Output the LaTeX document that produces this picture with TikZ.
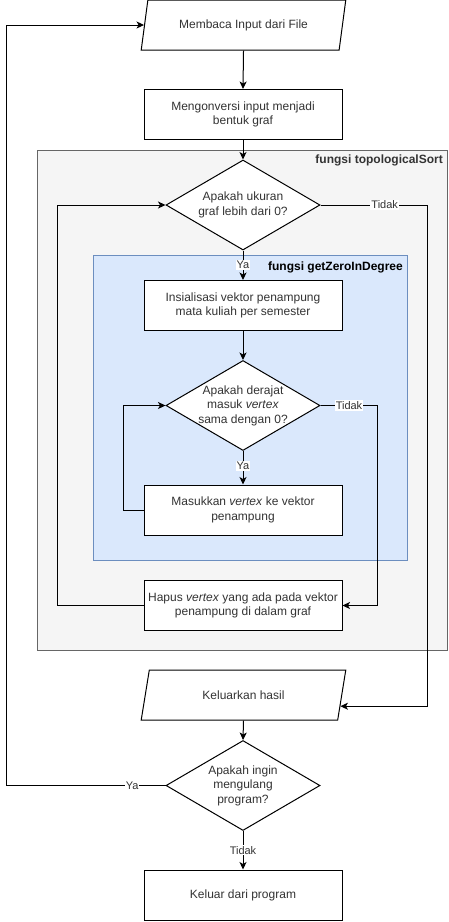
\documentclass[tikz,border=0pt]{standalone}
\usepackage{fontspec}
\setmainfont{Liberation Sans}
\usetikzlibrary{arrows.meta,shapes.geometric,calc}
\definecolor{txt}{HTML}{333333}
\definecolor{tsfill}{HTML}{F5F5F5}
\definecolor{tsdraw}{HTML}{666666}
\definecolor{gzfill}{HTML}{DAE8FC}
\definecolor{gzdraw}{HTML}{6C8EBF}
\tikzset{
  base/.style={font=\fontsize{12}{14.4}\selectfont, text=txt, align=center, inner sep=0pt},
  procbox/.style={base, draw=black, fill=white, line width=1pt, minimum width=198pt, minimum height=50pt},
  iobox/.style={base, draw=black, fill=white, line width=1pt, trapezium, trapezium left angle=68.2, trapezium right angle=111.8, trapezium stretches=true, minimum width=205pt, minimum height=50pt},
  decision/.style={draw=black, fill=white, line width=1pt, diamond, inner sep=0pt, minimum width=154pt, minimum height=90pt},
  dtext/.style={base},
  container/.style={line width=1pt, inner sep=0pt, anchor=north west},
  ctitle/.style={font=\fontsize{12}{14.4}\selectfont\bfseries, inner sep=0pt, anchor=east},
  flow/.style={line width=1pt, draw=black, -{Stealth[length=7.5pt,width=7pt,inset=2pt]}},
  lbl/.style={font=\fontsize{11}{13}\selectfont, text=txt, fill=white, inner sep=1pt},
}
\begin{document}
\begin{tikzpicture}[x=1pt,y=-1pt]
\useasboundingbox[fill=white] (0,0) rectangle (449,922);

% containers
\node[container, draw=tsdraw, fill=tsfill, minimum width=410pt, minimum height=500pt] (ts) at (37,150) {};
\node[ctitle, text=txt] (tstitle) at (443,160) {fungsi topologicalSort};
\node[container, draw=gzdraw, fill=gzfill, minimum width=314pt, minimum height=305pt] (gz) at (93,255) {};
\node[ctitle, text=black] (gztitle) at (403,267) {fungsi getZeroInDegree};

% nodes
\node[iobox] (p1) at (243.5,25) {Membaca Input dari File};
\node[procbox] (b1) at (243,114.5) {Mengonversi input menjadi\\bentuk graf};
\node[decision, label={[dtext]center:Apakah ukuran\\graf lebih dari 0?}] (d1) at (243,205) {};
\node[procbox] (b2) at (243,305.5) {Insialisasi vektor penampung\\mata kuliah per semester};
\node[decision, label={[dtext]center:Apakah derajat\\masuk \textit{vertex}\\sama dengan 0?}] (d2) at (243,405.5) {};
\node[procbox] (b3) at (243,510) {Masukkan \textit{vertex} ke vektor\\penampung};
\node[procbox] (b4) at (243,605.5) {Hapus \textit{vertex} yang ada pada vektor\\penampung di dalam graf};
\node[iobox] (p3) at (243.5,695) {Keluarkan hasil};
\node[decision, label={[dtext]center:Apakah ingin\\mengulang\\program?}] (d3) at (243,785.5) {};
\node[procbox] (b5) at (243,895) {Keluar dari program};

\coordinate (p3in) at ($(p3.top right corner)!0.72!(p3.bottom right corner)$);

% connectors
\draw[flow] (p1.south) -- (b1.north);
\draw[flow] (b1.south) -- (d1.north);
\draw[flow] (d1.south) -- node[lbl]{Ya} (b2.north);
\draw[flow] (d1.east) -- node[lbl, pos=0.6]{Tidak} ++(107,0) |- (p3in);
\draw[flow] (b2.south) -- (d2.north);
\draw[flow] (d2.south) -- node[lbl, pos=0.45]{Ya} (b3.north);
\draw[flow] (d2.east) -- node[lbl, pos=0.5]{Tidak} ++(57,0) |- (b4.east);
\draw[flow] (b3.west) -- ++(-20,0) |- (d2.west);
\draw[flow] (b4.west) -- ++(-86,0) |- (d1.west);
\draw[flow] (p3.south) -- (d3.north);
\draw[flow] (d3.west) -- node[lbl, pos=0.21]{Ya} ++(-159,0) |- (p1.west);
\draw[flow] (d3.south) -- node[lbl]{Tidak} (b5.north);
\end{tikzpicture}
\end{document}
